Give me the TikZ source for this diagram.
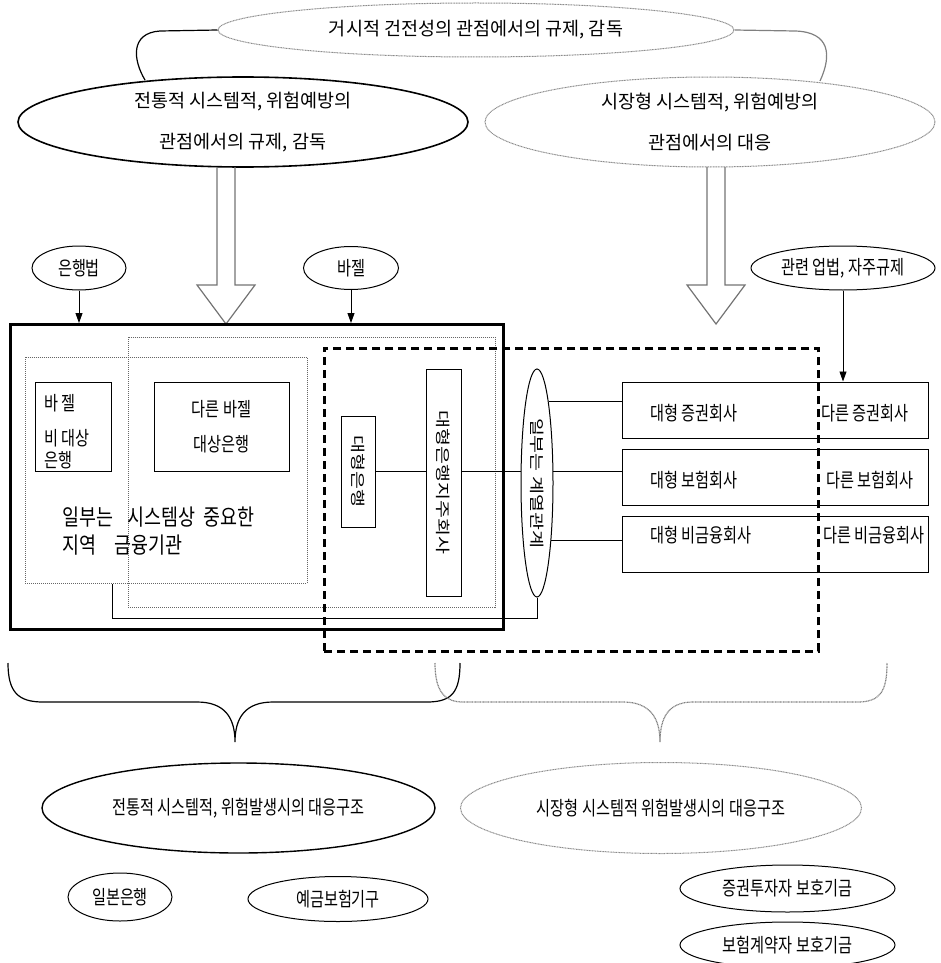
\documentclass[tikz,border=0pt]{standalone}
\usepackage{fontspec}
\setmainfont{Noto Sans CJK KR}[FakeStretch=0.82]
\newfontfamily\krplain{Noto Sans CJK KR}
\newfontfamily\krsmall{Noto Sans CJK KR}[FakeStretch=0.78]
\newfontfamily\krwide{Noto Sans CJK KR}[FakeStretch=1.3]
\usetikzlibrary{arrows.meta,shapes.geometric}

\begin{document}
\begin{tikzpicture}[
x=1pt, y=1pt,
toptext/.style={font=\krplain\fontsize{18.5}{23}\selectfont},
bigtext/.style={font=\fontsize{22.5}{28}\selectfont},
smalltext/.style={font=\krsmall\fontsize{19.5}{23}\selectfont},
widetext/.style={font=\krwide\fontsize{15}{18}\selectfont},
oval/.style={draw, ellipse, inner sep=0pt, line width=1pt},
greyoval/.style={oval, draw=black!45, dash pattern=on 1pt off 0.6pt},
firmbox/.style={draw, rectangle, inner sep=0pt, line width=1pt},
region/.style={rectangle, inner sep=0pt, anchor=north west},
dotbox/.style={region, draw=black!60, dash pattern=on 1pt off 1pt, line width=0.7pt},
arrow/.style={-{Triangle[length=10pt,width=7pt]}, line width=0.9pt},
hollow/.style={draw=black!55, line width=1.2pt}
]
\useasboundingbox (0,0) rectangle (941,-963);

\node[greyoval, toptext, minimum width=516, minimum height=54] (macro) at (476,-30) {거시적 건전성의 관점에서의 규제, 감독};
\node[oval, line width=1.6pt, toptext, align=center, minimum width=450, minimum height=90] (tradprev) at (243,-122) {전통적 시스템적, 위험예방의\\[18pt]관점에서의 규제, 감독};
\node[greyoval, toptext, align=center, minimum width=450, minimum height=90] (mktprev) at (710,-122) {시장형 시스템적, 위험예방의\\[18pt]관점에서의 대응};

\draw[line width=1.2pt] (145,-80) .. controls (133,-60) and (130,-33) .. (160,-31) -- (macro.west);
\draw[black!50, line width=1.2pt] (macro.east) -- (795,-31) .. controls (830,-32) and (832,-55) .. (820,-81);

\foreach \ax in {226,716}
  \draw[hollow] (\ax-9,-167) -- (\ax-9,-285) -- (\ax-29,-285) -- (\ax,-324) -- (\ax+29,-285) -- (\ax+9,-285) -- (\ax+9,-167);

\node[oval, smalltext, minimum width=94, minimum height=44] (banklaw) at (79,-268) {은행법};
\node[oval, smalltext, minimum width=95, minimum height=43] (basel) at (351,-268) {바젤};
\node[oval, smalltext, minimum width=184, minimum height=44] (related) at (843,-268) {관련 업법, 자주규제};

\node[region, draw, line width=2.6pt, minimum width=493, minimum height=305] (frame) at (9,-323) {};
\node[dotbox, minimum width=282, minimum height=226] (local) at (25,-357) {};
\node[dotbox, minimum width=367, minimum height=270] (bigbasel) at (128,-337) {};
\node[region, draw, dash pattern=on 8pt off 5pt, line width=2.6pt, minimum width=494, minimum height=303] (market) at (323,-347) {};

\node[firmbox, region, minimum width=76, minimum height=89] (nonbasel) at (35,-382) {};
\node[smalltext, align=left, anchor=west, inner sep=0pt] (nonbaseltxt) at (44,-431.5) {바 젤\\[12pt]비 대상\\[-1pt]은행};
\node[firmbox, smalltext, align=center, minimum width=135, minimum height=89] (otherbasel) at (221.5,-426.5) {다른 바젤\\[12pt]대상은행};
\node[bigtext, align=left, anchor=west, inner sep=0pt] (localtxt) at (62,-531) {일부는 \hspace{10pt}시스템상 \hspace{4pt}중요한\\지역 \hspace{14pt}금융기관};

\node[firmbox, rotate=-90, widetext, minimum width=111, minimum height=34] (bigbank) at (358,-471.5) {대형은행};
\node[firmbox, rotate=-90, widetext, minimum width=227, minimum height=35] (holding) at (443.5,-482.5) {대형은행지주회사};
\node[oval, rotate=-90, widetext, minimum width=228, minimum height=32] (group) at (537,-483) {일부는 계열관계};

\foreach \row/\yc/\ty/\big/\other/\ox in {sec/410/413/대형 증권회사/다른 증권회사/821, ins/477/480/대형 보험회사/다른 보험회사/826, nonfin/544.5/535/대형 비금융회사/다른 비금융회사/823} {
  \node[firmbox, minimum width=306, minimum height=56] (\row) at (775,-\yc) {};
  \node[smalltext, anchor=west, inner sep=0pt] (\row big) at (650,-\ty) {\big};
  \node[smalltext, anchor=west, inner sep=0pt] (\row other) at (\ox,-\ty) {\other};
}

\draw[arrow] (banklaw) -- (banklaw |- frame.north);
\draw[arrow] (basel) -- (basel |- frame.north);
\draw[arrow] (related) -- (related |- sec.north);

\draw[line width=0.9pt] (bigbank.north) -- (bigbank.north -| holding.south);
\draw[line width=0.9pt] (holding.north |- group.234) -- (group.234);
\draw[line width=0.9pt] (group.126) -- (group.126 -| ins.west);
\draw[line width=0.9pt] (group.172) -- (group.172 -| sec.west);
\draw[line width=0.9pt] (group.14) -- (group.14 -| nonfin.west);
\draw[line width=0.9pt] (group.east) -- ++(0,-21) -| (nonbasel.east |- local.south);

\draw[line width=1.2pt] (8,-663) .. controls (8,-692) and (18,-702) .. (43,-702) -- (197,-702) .. controls (225,-702) and (235,-718) .. (235,-742) .. controls (235,-718) and (245,-702) .. (273,-702) -- (427,-702) .. controls (452,-702) and (460,-692) .. (460,-663);
\draw[black!50, line width=1.2pt, dash pattern=on 1pt off 0.6pt] (435,-663) .. controls (435,-692) and (445,-702) .. (463,-702) -- (623,-702) .. controls (650,-702) and (660,-718) .. (660,-742) .. controls (660,-718) and (668,-702) .. (693,-702) -- (857,-702) .. controls (880,-702) and (887,-692) .. (887,-663);

\node[oval, line width=1.4pt, smalltext, minimum width=393, minimum height=90] (tradres) at (238.5,-808) {전통적 시스템적, 위험발생시의 대응구조};
\node[greyoval, smalltext, minimum width=401, minimum height=91] (mktres) at (661,-808) {시장형 시스템적 위험발생시의 대응구조};
\node[oval, smalltext, minimum width=104, minimum height=48] (boj) at (120,-897) {일본은행};
\node[oval, smalltext, minimum width=180, minimum height=45] (dic) at (338,-899) {예금보험기구};
\node[oval, smalltext, minimum width=215, minimum height=47] (secfund) at (787.5,-888.5) {증권투자자 보호기금};
\node[oval, smalltext, minimum width=215, minimum height=46] (insfund) at (787.5,-945) {보험계약자 보호기금};

\end{tikzpicture}
\end{document}
